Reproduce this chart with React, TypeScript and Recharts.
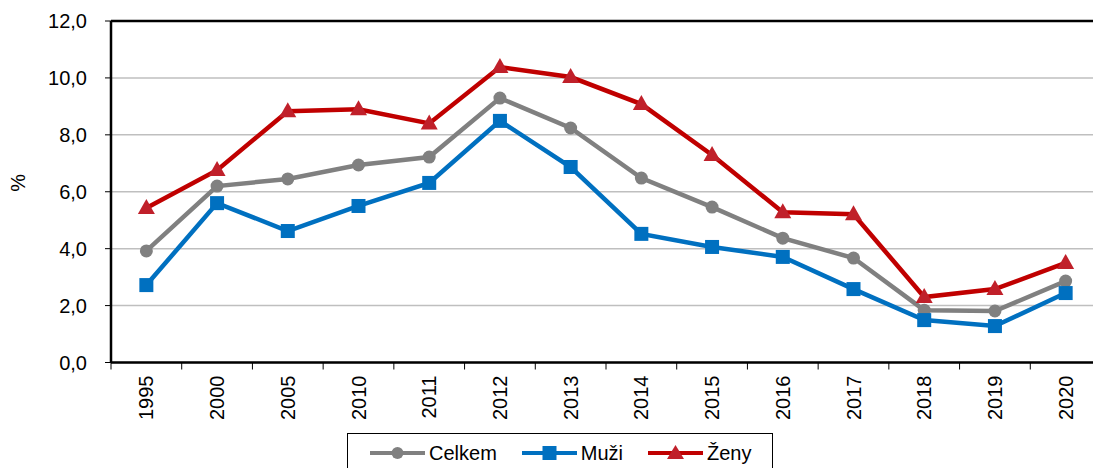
import { LineChart, Line, XAxis, YAxis, CartesianGrid, ReferenceLine, Label } from "recharts";

const years = ["1995", "2000", "2005", "2010", "2011", "2012", "2013", "2014", "2015", "2016", "2017", "2018", "2019", "2020"];
const celkem = [3.92, 6.2, 6.45, 6.94, 7.22, 9.29, 8.24, 6.48, 5.46, 4.37, 3.67, 1.84, 1.81, 2.86];
const muzi = [2.72, 5.6, 4.62, 5.5, 6.31, 8.49, 6.87, 4.52, 4.06, 3.71, 2.58, 1.49, 1.28, 2.44];
const zeny = [5.43, 6.76, 8.83, 8.9, 8.4, 10.38, 10.03, 9.08, 7.29, 5.28, 5.21, 2.3, 2.58, 3.5];
const yTicks = [0, 2, 4, 6, 8, 10, 12];

const GRAY = "#808080";
const BLUE = "#0070C0";
const RED = "#C00000";
const FONT = "'Liberation Sans', Arial, sans-serif";

const data = years.map((y, i) => ({ year: y, celkem: celkem[i], muzi: muzi[i], zeny: zeny[i] }));

const W = 1110;
const H = 468;
const BAND = (1101 - 111) / years.length;

const XTick = (props: any) => {
  const { x, y, payload } = props;
  return (
    <g>
      <line x1={x - BAND / 2} x2={x - BAND / 2} y1={y} y2={y + 7} stroke="#000" strokeWidth={1} />
      <text
        x={x}
        y={y + 13}
        transform={`rotate(-90, ${x}, ${y + 13})`}
        textAnchor="end"
        dominantBaseline="central"
        fontSize={20}
        fill="#000"
        fontFamily={FONT}
      >
        {payload.value}
      </text>
    </g>
  );
};

const squareDot = (props: any) => {
  const { cx, cy, index } = props;
  return <rect key={`sq-${index}`} x={cx - 7} y={cy - 7} width={14} height={14} fill={BLUE} />;
};

const triDot = (props: any) => {
  const { cx, cy, index } = props;
  return (
    <polygon
      key={`tr-${index}`}
      points={`${cx},${cy - 9} ${cx + 8.5},${cy + 6} ${cx - 8.5},${cy + 6}`}
      fill="#C0202A"
    />
  );
};

const LegendItem = ({ color, label, marker }: { color: string; label: string; marker: string }) => (
  <div style={{ display: "flex", alignItems: "center", marginRight: 25 }}>
    <svg width={55} height={20}>
      <line x1={0} x2={55} y1={10} y2={10} stroke={color} strokeWidth={4} />
      {marker === "circle" && <circle cx={27.5} cy={10} r={6} fill={color} />}
      {marker === "square" && <rect x={20.5} y={3} width={14} height={14} fill={color} />}
      {marker === "triangle" && <polygon points="27.5,2 36,16 19,16" fill="#C0202A" />}
    </svg>
    <span style={{ marginLeft: 4 }}>{label}</span>
  </div>
);

export default function App() {
  return (
    <div style={{ position: "absolute", left: 0, top: 0, width: 1093, height: H, overflow: "hidden", fontFamily: FONT }}>
      <LineChart width={W} height={H} data={data} margin={{ top: 21, right: 9, left: 0, bottom: 0 }}>
        <CartesianGrid horizontal vertical={false} stroke="#BFBFBF" strokeWidth={1.5} />
        <YAxis
          domain={[0, 12]}
          ticks={yTicks}
          width={111}
          axisLine={{ stroke: "#000", strokeWidth: 2.5 }}
          tickLine={{ stroke: "#000" }}
          tickSize={6}
          tickMargin={18}
          tick={{ fontSize: 20, fill: "#000", fontFamily: FONT }}
          tickFormatter={(v: number) => v.toFixed(1).replace(".", ",")}
        >
          <Label value="%" angle={-90} position="insideLeft" offset={18} style={{ fontSize: 20, fill: "#000", fontFamily: FONT }} />
        </YAxis>
        <XAxis
          dataKey="year"
          height={105.5}
          padding={{ left: BAND / 2, right: BAND / 2 }}
          axisLine={{ stroke: "#000", strokeWidth: 2.5 }}
          tickLine={false}
          tickSize={0}
          tickMargin={0}
          interval={0}
          tick={<XTick />}
        />
        <ReferenceLine y={12} stroke="#000" strokeWidth={2.5} />
        <Line dataKey="celkem" stroke={GRAY} strokeWidth={4.5} dot={{ r: 6.5, fill: GRAY, stroke: GRAY, strokeWidth: 0 }} activeDot={false} isAnimationActive={false} />
        <Line dataKey="muzi" stroke={BLUE} strokeWidth={4.5} dot={squareDot} activeDot={false} isAnimationActive={false} />
        <Line dataKey="zeny" stroke={RED} strokeWidth={4.5} dot={triDot} activeDot={false} isAnimationActive={false} />
      </LineChart>
      <div
        style={{
          position: "absolute",
          left: 347,
          top: 433,
          width: 426,
          height: 40,
          border: "1px solid #000",
          boxSizing: "border-box",
          display: "flex",
          alignItems: "center",
          justifyContent: "flex-start",
          paddingLeft: 22,
          fontSize: 20,
          background: "#fff",
        }}
      >
        <LegendItem color={GRAY} label="Celkem" marker="circle" />
        <LegendItem color={BLUE} label="Muži" marker="square" />
        <LegendItem color={RED} label="Ženy" marker="triangle" />
      </div>
    </div>
  );
}
